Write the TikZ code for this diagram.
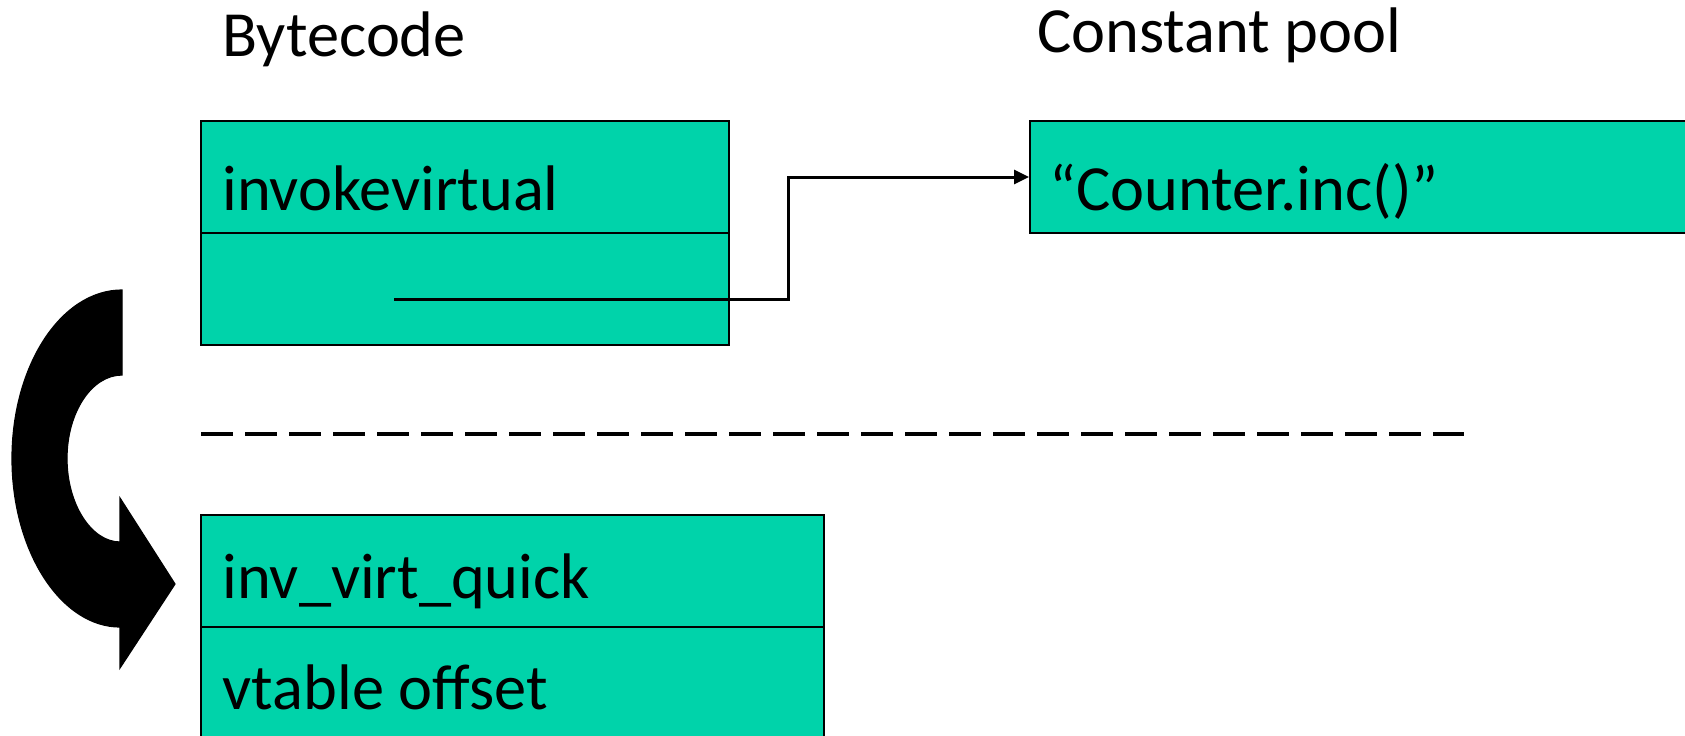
\documentclass[tikz,border=0pt]{standalone}
\usepackage{fontspec}
\setmainfont{Carlito}
\usetikzlibrary{arrows.meta}
\definecolor{cellfill}{RGB}{0,211,170}
\begin{document}
\begin{tikzpicture}[x=0.5pt,y=-0.5pt,
  cell/.style={draw=black, line width=1pt, fill=cellfill, rectangle, inner sep=0pt,
    minimum height=56pt},
  lbl/.style={anchor=base west, inner sep=0pt, font=\fontsize{32.2pt}{38pt}\selectfont},
  link/.style={line width=1.5pt, -{Triangle[length=7.5pt,width=7pt]}},
  sep/.style={line width=2pt, dash pattern=on 15.75pt off 6.25pt},
  bigarrow/.style={fill=black, draw=black, line width=0.6pt}]
\useasboundingbox (0,0) rectangle (1685,735);
\clip (0,0) rectangle (1685,735);

% headings
\node[lbl] (hbc) at (222,56) {Bytecode};
\node[lbl] (hcp) at (1037,52) {Constant pool};

% original bytecode
\node[cell, minimum width=264pt] (bc1) at (465,177) {};
\node[cell, minimum width=264pt] (bc2) at (465,289) {};
\node[lbl] (tbc1) at (222,210) {invokevirtual};

% constant pool entry
\node[cell, minimum width=335pt] (cp) at (1365,177) {};
\node[lbl] (tcp) at (1049,210) {“Counter.inc()”};

% operand refers to the constant pool entry
\coordinate (src) at (394,299);
\coordinate (bend) at (788,299);
\draw[link] (src) -- (bend) |- (cp.west);

% separator
\coordinate (dl) at (201,434);
\coordinate (dr) at (1464,434);
\draw[sep] (dl) -- (dr);

% quickened bytecode
\node[cell, minimum width=311.5pt, minimum height=55.75pt] (q1) at (512.5,570.75) {};
\node[cell, minimum width=311.5pt, minimum height=55.75pt] (q2) at (512.5,682.5) {};
\node[lbl] (tq1) at (222,598) {inv\_virt\_quick};
\node[lbl] (tq2) at (222,709) {vtable offset};

% curved rewrite arrow
\path[bigarrow] (122,290) -- (122,375)
  .. controls (91.6,375) and (67,412.4) .. (67,458.5)
  .. controls (67,504.6) and (91.6,542) .. (120,542)
  -- (120,498) -- (175,584) -- (120,668) -- (120,627)
  .. controls (61.25,627) and (12,551.6) .. (12,458.5)
  .. controls (12,365.4) and (61.25,290) .. (122,290) -- cycle;
\end{tikzpicture}
\end{document}
